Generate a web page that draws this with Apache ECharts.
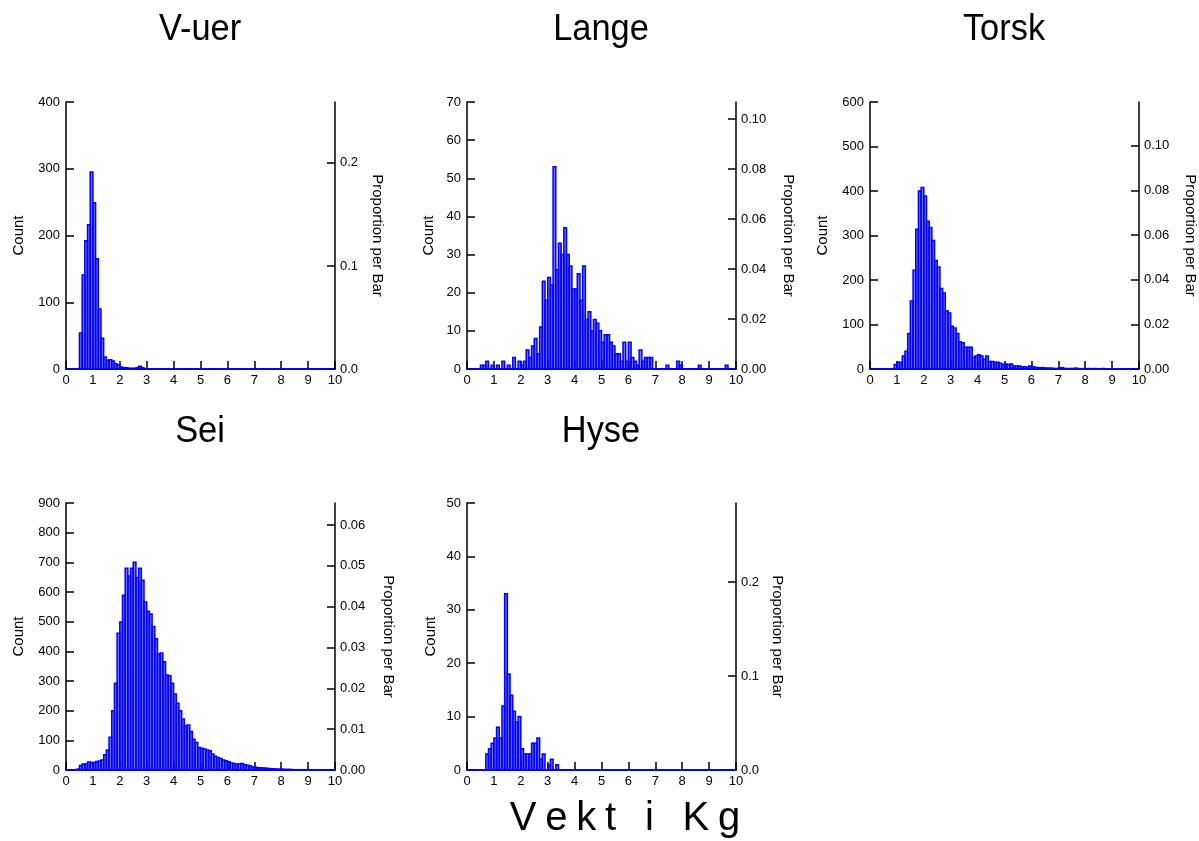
<!DOCTYPE html>
<html>
<head>
<meta charset="utf-8">
<script src="https://cdn.jsdelivr.net/npm/echarts@6/dist/echarts.min.js"></script>
<style>
  html, body { margin: 0; padding: 0; background: #fff; }
  #chart { width: 1199px; height: 841px; }
</style>
</head>
<body>
<div id="chart"></div>
<script>
// histogram counts per 0.1 kg bin, 0.0 - 10.0
const titles = ['V-uer', 'Lange', 'Torsk', 'Sei', 'Hyse']
const binWidth = 0.1

const vuer = [
  0, 0, 0, 0, 0, 54, 141, 192, 216, 295,
  249, 165, 90, 46, 18, 13, 14, 12, 8, 6,
  3, 2, 2, 1, 1, 1, 2, 4, 2, 0,
  0, 0, 0, 0, 0, 0, 0, 0, 0, 0,
  0, 0, 0, 0, 0, 0, 0, 0, 0, 0,
  0, 0, 0, 0, 0, 0, 0, 0, 0, 0,
  0, 0, 0, 0, 0, 0, 0, 0, 0, 0,
  0, 0, 0, 0, 0, 0, 0, 0, 0, 0,
  0, 0, 0, 0, 0, 0, 0, 0, 0, 0,
  0, 0, 0, 0, 0, 0, 0, 0, 0, 0
]
const lange = [
  0, 0, 0, 0, 0, 1, 1, 2, 0, 1,
  0, 1, 0, 2, 0, 1, 0, 3, 0, 2,
  1, 2, 5, 3, 6, 8, 4, 11, 23, 18,
  24, 22, 53, 26, 33, 30, 37, 30, 27, 21,
  21, 25, 18, 27, 13, 15, 10, 13, 12, 10,
  7, 9, 9, 7, 6, 4, 4, 2, 7, 2,
  7, 3, 2, 1, 5, 2, 3, 3, 3, 0,
  0, 0, 0, 0, 1, 0, 0, 0, 2, 1,
  0, 0, 0, 0, 0, 0, 1, 0, 0, 0,
  0, 0, 0, 0, 0, 0, 1, 0, 0, 0
]
const torsk = [
  0, 0, 0, 0, 0, 0, 0, 0, 0, 10,
  15, 15, 29, 40, 80, 153, 222, 314, 400, 408,
  389, 332, 318, 289, 244, 229, 181, 171, 131, 126,
  96, 92, 80, 61, 59, 49, 49, 49, 26, 29,
  32, 29, 22, 29, 17, 17, 15, 15, 13, 10,
  11, 10, 11, 7, 7, 7, 5, 5, 4, 7,
  5, 4, 3, 3, 3, 2, 2, 2, 1, 1,
  2, 3, 1, 1, 1, 1, 2, 1, 0, 1,
  0, 1, 0, 1, 0, 0, 1, 0, 0, 0,
  0, 0, 0, 0, 0, 0, 0, 0, 0, 0
]
const sei = [
  0, 0, 0, 1, 3, 15, 20, 20, 27, 25,
  25, 29, 30, 34, 51, 67, 110, 200, 292, 461,
  499, 589, 680, 654, 680, 700, 649, 680, 640, 566,
  535, 526, 484, 442, 391, 394, 365, 320, 318, 292,
  256, 225, 200, 172, 149, 152, 130, 104, 93, 76,
  73, 71, 67, 65, 54, 46, 42, 39, 34, 31,
  28, 24, 22, 20, 20, 22, 18, 16, 14, 10,
  9, 8, 8, 7, 6, 5, 4, 4, 3, 3,
  3, 2, 2, 2, 1, 1, 1, 1, 1, 1,
  1, 0, 1, 0, 1, 0, 0, 1, 0, 0
]
const hyse = [
  0, 0, 0, 0, 0, 0, 0, 3, 4, 5,
  6, 8, 6, 12, 33, 18, 14, 11, 9, 10,
  4, 3, 3, 3, 5, 5, 6, 2, 3, 0,
  1, 2, 0, 1, 0, 0, 0, 0, 0, 0,
  0, 0, 0, 0, 0, 0, 0, 0, 0, 0,
  0, 0, 0, 0, 0, 0, 0, 0, 0, 0,
  0, 0, 0, 0, 0, 0, 0, 0, 0, 0,
  0, 0, 0, 0, 0, 0, 0, 0, 0, 0,
  0, 0, 0, 0, 0, 0, 0, 0, 0, 0,
  0, 0, 0, 0, 0, 0, 0, 0, 0, 0
]
const counts = [vuer, lange, torsk, sei, hyse]

// axis ranges / ticks
const countMax = [400, 70, 600, 900, 50]
const countStep = [100, 10, 100, 100, 10]
const totals = [1544, 655, 5021, 13760, 176]   // n behind "Proportion per Bar"
const propTicks = [
  [0, 0.1, 0.2],
  [0, 0.02, 0.04, 0.06, 0.08, 0.10],
  [0, 0.02, 0.04, 0.06, 0.08, 0.10],
  [0, 0.01, 0.02, 0.03, 0.04, 0.05, 0.06],
  [0, 0.1, 0.2]
]
const propDigits = [1, 2, 2, 2, 1]
const xTicks = [0, 10, 1]

const FONT = 'Liberation Sans, Arial, sans-serif'
const BLUE = '#0000ff'

const grids = [
  { left: 66, top: 102 },
  { left: 467, top: 102 },
  { left: 870, top: 102 },
  { left: 66, top: 503 },
  { left: 467, top: 503 }
]
const leftGap = [40, 31, 40, 40, 29]
const rightGap = [35, 45, 44, 46, 34]

const chart = echarts.init(document.getElementById('chart'))

const axisLine = { show: true, lineStyle: { color: '#000', width: 1.5 } }
const axisTick = { show: true, inside: true, length: 8, lineStyle: { color: '#000', width: 1.5 } }
const labelStyle = { color: '#000', fontSize: 13, fontFamily: FONT }
const nameStyle = { color: '#000', fontSize: 15, fontFamily: FONT }

const option = {
  animation: false,
  backgroundColor: '#fff',
  grid: [],
  xAxis: [],
  yAxis: [],
  series: [],
  graphic: []
}

counts.forEach((data, i) => {
  option.grid.push({ left: grids[i].left, top: grids[i].top, width: 269, height: 267 })
  option.xAxis.push({
    gridIndex: i,
    type: 'value',
    min: xTicks[0],
    max: xTicks[1],
    interval: xTicks[2],
    // empty bins leave a blue line along the base
    axisLine: { show: true, lineStyle: { color: BLUE, width: 2 } },
    axisTick: axisTick,
    axisLabel: Object.assign({ margin: 5 }, labelStyle),
    splitLine: { show: false }
  })
  option.yAxis.push({
    gridIndex: i,
    type: 'value',
    position: 'left',
    min: 0,
    max: countMax[i],
    interval: countStep[i],
    name: 'Count',
    nameLocation: 'middle',
    nameRotate: 90,
    nameGap: leftGap[i],
    nameTextStyle: nameStyle,
    axisLine: axisLine,
    axisTick: axisTick,
    axisLabel: Object.assign({ margin: 6 }, labelStyle),
    splitLine: { show: false }
  })
  option.yAxis.push({
    gridIndex: i,
    type: 'value',
    position: 'right',
    min: 0,
    max: countMax[i] / totals[i],
    name: 'Proportion per Bar',
    nameLocation: 'middle',
    nameRotate: -90,
    nameGap: rightGap[i],
    nameTextStyle: nameStyle,
    axisLine: axisLine,
    axisTick: Object.assign({ customValues: propTicks[i] }, axisTick),
    axisLabel: Object.assign({
      margin: 5,
      customValues: propTicks[i],
      formatter: v => v.toFixed(propDigits[i])
    }, labelStyle),
    splitLine: { show: false }
  })
  option.series.push({
    type: 'custom',
    xAxisIndex: i,
    yAxisIndex: i * 2,
    z: 5,
    data: data.map((c, k) => [k * binWidth, c]),
    renderItem: (params, api) => {
      const x0 = api.value(0)
      const p0 = api.coord([x0, api.value(1)])
      const p1 = api.coord([x0 + binWidth, 0])
      return {
        type: 'rect',
        shape: { x: p0[0], y: p0[1], width: p1[0] - p0[0], height: p1[1] - p0[1] },
        style: { fill: 'rgba(20,20,255,0.6)', stroke: BLUE, lineWidth: 1.5 }
      }
    }
  })
  option.graphic.push({
    type: 'text',
    x: grids[i].left + 134,
    y: i < 3 ? 30 : 432,
    scaleX: 0.93,
    style: {
      text: titles[i],
      font: '37px ' + FONT,
      fill: '#000',
      align: 'center',
      verticalAlign: 'middle',
      textAlign: 'center',
      textVerticalAlign: 'middle'
    }
  })
})

// common x title, letters spread out
const xTitle = 'Vekt i Kg'
option.graphic.push({
  type: 'text',
  x: 625,
  y: 819,
  style: {
    text: xTitle.split('').map(ch => '{c|' + ch + '}').join(''),
    rich: { c: { fontSize: 40, fontFamily: FONT, color: '#000', padding: [0, 4.4] } },
    fill: '#000',
    align: 'center',
    verticalAlign: 'middle',
    textAlign: 'center',
    textVerticalAlign: 'middle'
  }
})

chart.setOption(option)
</script>
</body>
</html>
